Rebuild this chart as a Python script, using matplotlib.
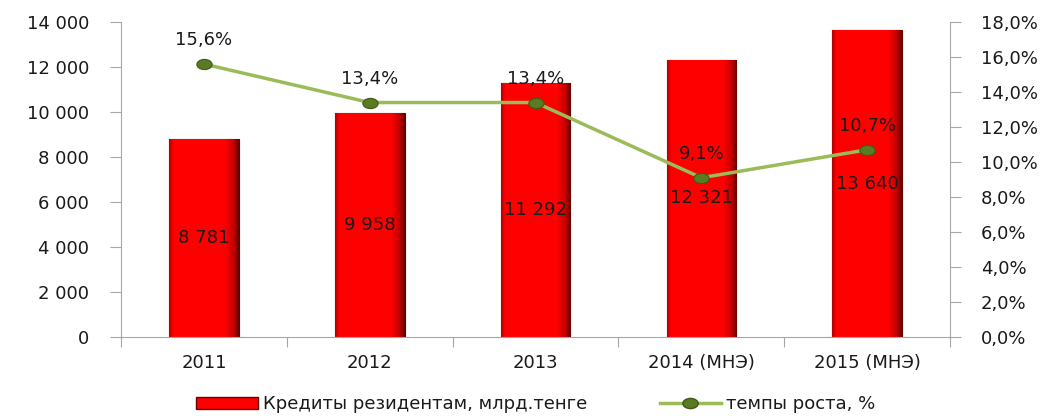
import numpy as np
import matplotlib.pyplot as plt
from matplotlib.ticker import FixedLocator, FuncFormatter
from matplotlib.lines import Line2D
from matplotlib.patches import Patch
from matplotlib.path import Path
from matplotlib.transforms import Affine2D
from matplotlib.colors import LinearSegmentedColormap

# Data
years = ["2011", "2012", "2013", "2014 (МНЭ)", "2015 (МНЭ)"]
credits = [8781, 9958, 11292, 12321, 13640]
growth = [15.6, 13.4, 13.4, 9.1, 10.7]

bar_label = "Кредиты резидентам, млрд.тенге"
line_label = "темпы роста, %"

plt.rcParams['font.family'] = ['DejaVu Sans']
txt = '#1a1a1a'
spine_c = '#a6a6a6'
fs = 13

# wide oval marker like the original
oval = Path.unit_circle().transformed(Affine2D().scale(1.5, 1.0))

fig = plt.figure(figsize=(10.55, 4.16), dpi=100)
ax = fig.add_axes([0.1147, 0.190, 0.7858, 0.757])
ax2 = ax.twinx()

x = np.arange(len(years))
bars = ax.bar(x, credits, width=0.42, color='#ff0000', edgecolor='#6a0000', linewidth=0.8, zorder=2)

# side shading of the bars
shade = LinearSegmentedColormap.from_list(
    'bevel', [(0.0, '#b00000'), (0.06, '#ff0000'), (0.80, '#ff0000'), (0.93, '#c00000'), (1.0, '#600000')])
grad = np.linspace(0, 1, 256).reshape(1, -1)
for b in bars:
    bx, bw, bh = b.get_x(), b.get_width(), b.get_height()
    im = ax.imshow(grad, cmap=shade, aspect='auto', extent=(bx, bx + bw, 0, bh), zorder=2.5)
    im.set_clip_path(b)

for xi, v in zip(x, credits):
    ax.text(xi, v / 2, f"{v:,}".replace(",", " "), ha='center', va='center',
            fontsize=fs, color=txt, zorder=5)

ax.set_xlim(-0.5, len(years) - 0.5)
ax.set_ylim(0, 14000)
ax.yaxis.set_major_locator(FixedLocator(np.arange(0, 14001, 2000)))
ax.yaxis.set_major_formatter(FuncFormatter(lambda v, p: f"{int(v):,}".replace(",", " ")))

ax.xaxis.set_major_locator(FixedLocator(np.arange(-0.5, len(years), 1.0)))
ax.xaxis.set_major_formatter(FuncFormatter(lambda v, p: ""))
ax.set_xticks(x, years, minor=True)
ax.tick_params(axis='x', which='minor', length=0, pad=12, labelsize=fs, labelcolor=txt)
ax.tick_params(axis='x', which='major', length=7, color=spine_c)
ax.tick_params(axis='y', length=8, pad=15, labelsize=fs, labelcolor=txt, color=spine_c)

ax2.plot(x, growth, color='#9bbb59', linewidth=2.5, marker=oval, markersize=11,
         markerfacecolor='#5a7a23', markeredgecolor='#3f5a15', markeredgewidth=0.8, zorder=6)
for xi, v in zip(x, growth):
    ax2.annotate(f"{v:.1f}%".replace(".", ","), (xi, v), xytext=(0, 17), textcoords='offset points',
                 ha='center', va='center', fontsize=fs, color=txt)
ax2.set_ylim(0, 18)
ax2.yaxis.set_major_locator(FixedLocator(np.arange(0, 18.1, 2)))
ax2.yaxis.set_major_formatter(FuncFormatter(lambda v, p: f"{v:.1f}%".replace(".", ",")))
ax2.tick_params(axis='y', length=8, pad=14, labelsize=fs, labelcolor=txt, color=spine_c)

for a in (ax, ax2):
    a.spines['top'].set_visible(False)
    for s in ('left', 'right', 'bottom'):
        a.spines[s].set_color(spine_c)
ax2.spines['left'].set_visible(False)
ax2.spines['bottom'].set_visible(False)
ax.spines['right'].set_visible(False)

handles = [Patch(facecolor='#ff0000', edgecolor='#6a0000'),
           Line2D([0], [0], color='#9bbb59', lw=2.5, marker=oval, markersize=11,
                  markerfacecolor='#5a7a23', markeredgecolor='#3f5a15')]
fig.legend(handles, [bar_label, line_label], loc='center', bbox_to_anchor=(0.508, 0.028),
           ncol=2, frameon=False, fontsize=fs, handlelength=3.4, handleheight=0.7,
           columnspacing=4.0, handletextpad=0.3, labelcolor=txt)

fig.savefig("out.png", dpi=100)
